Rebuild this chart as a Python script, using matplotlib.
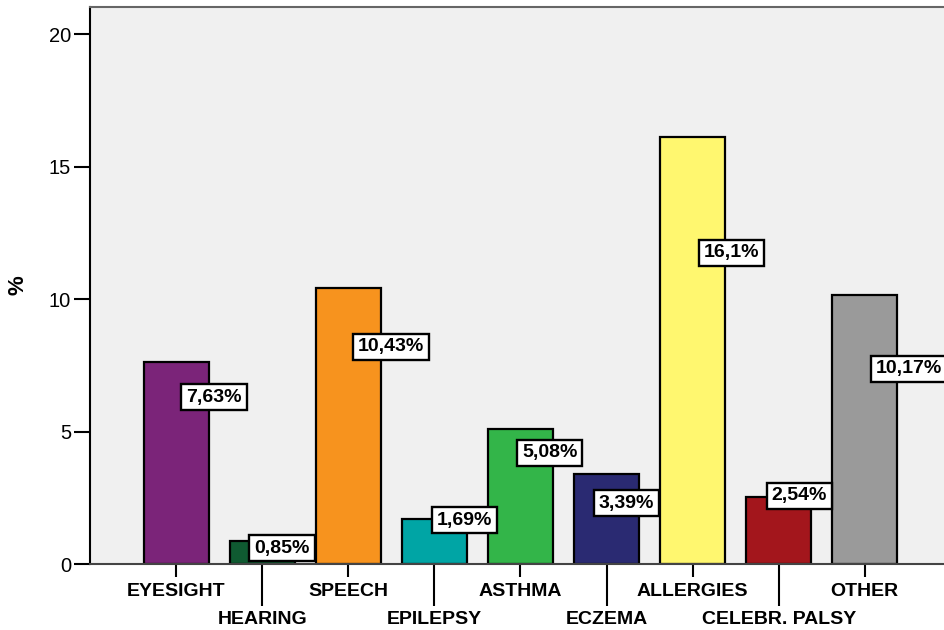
import matplotlib
matplotlib.use("Agg")
import matplotlib.pyplot as plt
import numpy as np

categories = ["EYESIGHT", "HEARING", "SPEECH", "EPILEPSY", "ASTHMA",
              "ECZEMA", "ALLERGIES", "CELEBR. PALSY", "OTHER"]
values = [7.63, 0.85, 10.43, 1.69, 5.08, 3.39, 16.1, 2.54, 10.17]
value_labels = ["7,63%", "0,85%", "10,43%", "1,69%", "5,08%",
                "3,39%", "16,1%", "2,54%", "10,17%"]
colors = ["#7B2479", "#0F5A31", "#F7931E", "#00A5A5", "#33B549",
          "#2A2A72", "#FFF76F", "#A3161C", "#9A9A9A"]
yticks = [0, 5, 10, 15, 20]

# label placement (offset in x from bar centre, y in data units)
label_dx = [0.44, 0.23, 0.50, 0.35, 0.34, 0.23, 0.45, 0.24, 0.51]
label_y = [6.30, 0.60, 8.19, 1.66, 4.19, 2.30, 11.74, 2.57, 7.36]

plt.rcParams['font.family'] = ['Liberation Sans', 'DejaVu Sans']

fig = plt.figure(figsize=(9.44, 6.30), dpi=100)
ax_w = 1 - 90/944 + 0.01
ax = fig.add_axes([90/944, 66/630, ax_w, (564-7)/630])
ax.set_facecolor("#F0F0F0")

x = np.arange(len(categories))
ax.bar(x, values, width=0.755, color=colors, edgecolor="black", linewidth=1.6, zorder=2)

for i in range(len(categories)):
    ax.text(x[i] + label_dx[i], label_y[i], value_labels[i], ha="center", va="center",
            fontsize=14, fontweight="bold", zorder=4,
            bbox=dict(boxstyle="square,pad=0.25", facecolor="white", edgecolor="black", linewidth=1.7))

ax.set_xlim(-1.0, 8.0 + 80/86 + 0.1)
ax.set_ylim(0, 21.02)
ax.set_yticks(yticks)
ax.set_yticklabels([str(v) for v in yticks], fontsize=14.5)
ax.tick_params(axis="y", length=11.5, width=1.5, pad=2, colors="black")

even = x[::2]
odd = x[1::2]
ax.set_xticks(even)
ax.set_xticklabels([categories[i] for i in even], fontsize=14, fontweight="bold")
ax.set_xticks(odd, minor=True)
ax.set_xticklabels([categories[i] for i in odd], minor=True, fontsize=14, fontweight="bold")
ax.tick_params(axis="x", which="major", length=9.5, width=1.5, pad=4)
ax.tick_params(axis="x", which="minor", length=30, width=1.5, pad=4)

ax.set_ylabel("%", fontsize=16, fontweight="bold", va="center")
ax.yaxis.set_label_coords(-72 / (ax_w * 944), (564 - 285) / 557)

ax.spines["left"].set_linewidth(1.5)
ax.spines["left"].set_color("black")
ax.spines["bottom"].set_linewidth(1.5)
ax.spines["bottom"].set_color("#444444")
ax.spines["top"].set_linewidth(1.5)
ax.spines["top"].set_color("#666666")
ax.spines["right"].set_visible(False)

fig.savefig("out.png", dpi=100, facecolor="white")
